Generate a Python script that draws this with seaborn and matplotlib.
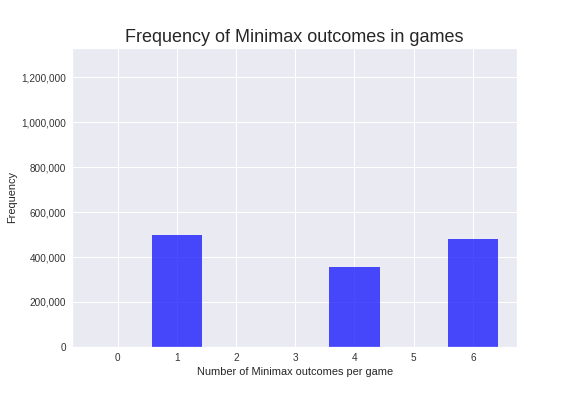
import matplotlib
matplotlib.use("Agg")
import matplotlib.pyplot as plt
import matplotlib.ticker as mticker
import seaborn as sns
import pandas as pd

# Minimax outcomes per game and how often each count occurred
outcomes = [0, 1, 2, 3, 4, 5, 6]
frequency = [0, 498700, 0, 0, 355800, 0, 480800]

sns.set_theme(style="darkgrid")
plt.rcParams['font.family'] = ['Liberation Sans', 'DejaVu Sans']

df = pd.DataFrame({'outcomes': outcomes, 'frequency': frequency})

fig, ax = plt.subplots(figsize=(8, 5.5), dpi=72)
fig.subplots_adjust(left=0.125, right=0.898, bottom=0.124, top=0.88)

sns.barplot(data=df, x='outcomes', y='frequency', order=outcomes,
            color='blue', alpha=0.7, width=0.85, linewidth=0,
            saturation=1, ax=ax)

ax.set_xlim(-0.77, 6.75)
ax.set_ylim(0, 1333000)
ax.yaxis.set_major_locator(mticker.MultipleLocator(200000))
ax.yaxis.set_major_formatter(mticker.StrMethodFormatter('{x:,.0f}'))
ax.grid(True, axis='both', color='white', linewidth=1)
ax.set_axisbelow(True)
ax.tick_params(axis='x', length=0, labelsize=10, colors='#333333', pad=6)
ax.tick_params(axis='y', length=0, labelsize=10, colors='#333333', pad=6)

ax.set_title('Frequency of Minimax outcomes in games', fontsize=18, color='#262626')
ax.set_xlabel('Number of Minimax outcomes per game', fontsize=11, color='#262626', labelpad=4)
ax.set_ylabel('Frequency', fontsize=11, color='#262626', labelpad=4)

fig.savefig('out.png', dpi=72)
